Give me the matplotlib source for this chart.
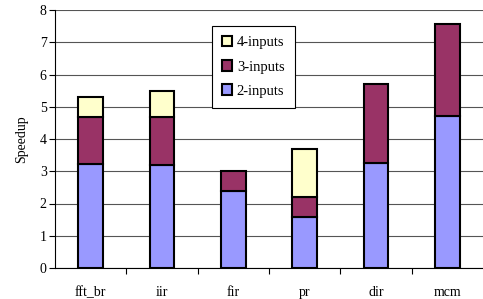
import matplotlib.pyplot as plt
import numpy as np

categories = ['fft_br', 'iir', 'fir', 'pr', 'dir', 'mcm']
inputs2 = [3.24, 3.18, 2.40, 1.59, 3.25, 4.72]
inputs3 = [1.43, 1.49, 0.62, 0.60, 2.46, 2.85]
inputs4 = [0.62, 0.82, 0.00, 1.49, 0.00, 0.00]

plt.rcParams['font.family'] = ['Liberation Serif', 'DejaVu Serif']
plt.rcParams['font.size'] = 10

fig = plt.figure(figsize=(4.83, 2.99), dpi=100)
ax = fig.add_axes([55 / 483, 31 / 299, 428 / 483, 258 / 299])

x = np.arange(len(categories))
w = 0.35
kw = dict(width=w, edgecolor='black', linewidth=1.5, zorder=3)
b2 = ax.bar(x, inputs2, color='#9999FF', label='2-inputs', **kw)
b3 = ax.bar(x, inputs3, bottom=inputs2, color='#993366', label='3-inputs', **kw)
bottom4 = np.array(inputs2) + np.array(inputs3)
h4 = np.array(inputs4)
b4 = ax.bar(x[h4 > 0], h4[h4 > 0], bottom=bottom4[h4 > 0], color='#FFFFCC',
            label='4-inputs', **kw)

ax.set_xlim(-0.5, len(categories) - 0.5)
ax.set_ylim(0, 8)
ax.set_yticks(range(9))
ax.set_xticks(x)
ax.set_xticklabels(categories)
ax.set_xticks(np.arange(0.5, len(categories) - 0.5, 1), minor=True)
ax.tick_params(axis='x', which='major', length=0, pad=13)
ax.tick_params(axis='x', which='minor', length=4, direction='out', width=0.8)
ax.tick_params(axis='y', length=4, direction='out', width=0.8, pad=2)
ax.grid(axis='y', color='#555555', linewidth=0.8, zorder=0)
ax.set_axisbelow(True)
for s in ['top', 'right']:
    ax.spines[s].set_visible(False)
ax.spines['left'].set_linewidth(0.8)
ax.spines['bottom'].set_linewidth(0.8)
ax.set_ylabel('Speedup', labelpad=8)

leg = ax.legend(handles=[b4, b3, b2], loc='upper left',
                bbox_to_anchor=(0.367, 0.938), fontsize=10.5,
                fancybox=False, framealpha=1, edgecolor='black',
                handlelength=0.7, handleheight=0.7, handletextpad=0.3,
                borderpad=0.7, borderaxespad=0, labelspacing=0.75)
leg.get_frame().set_linewidth(0.8)

fig.savefig('out.png', dpi=100)
